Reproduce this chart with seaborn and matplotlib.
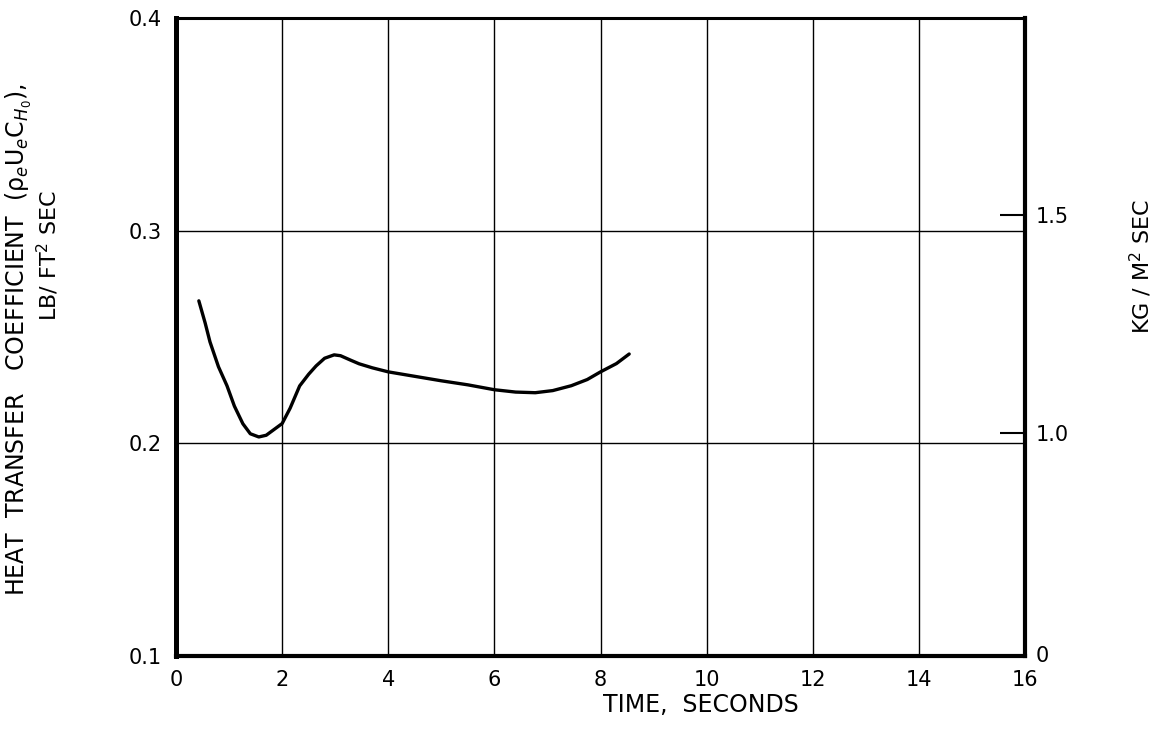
import matplotlib
matplotlib.use("Agg")
import matplotlib.pyplot as plt
import seaborn as sns
import pandas as pd

# Heat transfer coefficient history (lb/ft^2 sec)
time_s = [0.43, 0.55, 0.64, 0.8, 0.96, 1.1, 1.26, 1.4, 1.56, 1.7, 1.82,
          2.0, 2.15, 2.33, 2.5, 2.64, 2.8, 2.98, 3.1, 3.3, 3.45, 3.7,
          4.0, 4.5, 5.0, 5.5, 6.0, 6.4, 6.77, 7.1, 7.45, 7.75, 8.0, 8.3, 8.54]
coeff = [0.267, 0.2565, 0.2477, 0.236, 0.2271, 0.2175, 0.2092, 0.2045,
         0.2030, 0.2038, 0.2060, 0.2093, 0.2165, 0.2270, 0.2325, 0.2364,
         0.2400, 0.2416, 0.2412, 0.2390, 0.2374, 0.2355, 0.2336, 0.2315,
         0.2294, 0.2275, 0.2252, 0.2241, 0.2238, 0.2248, 0.2271, 0.2300,
         0.2336, 0.2375, 0.2420]

x_ticks = [0, 2, 4, 6, 8, 10, 12, 14, 16]
y_ticks = [0.1, 0.2, 0.3, 0.4]
y_tick_labels = ["0.1", "0.2", "0.3", "0.4"]

# Secondary scale in kg/m^2 sec (positions in lb/ft^2 sec)
si_tick_pos = [0.2048, 0.3072]
si_tick_labels = ["1.0", "1.5"]

df = pd.DataFrame({"time": time_s, "coeff": coeff})

sns.set_style("white")
plt.rcParams["font.family"] = ["DejaVu Sans"]
plt.rcParams["text.color"] = "black"
plt.rcParams["xtick.color"] = "black"
plt.rcParams["ytick.color"] = "black"

fig = plt.figure(figsize=(11.68, 7.31), dpi=100)
ax = fig.add_axes([0.1507, 0.1026, 0.7269, 0.8728])

sns.lineplot(data=df, x="time", y="coeff", ax=ax, color="black",
             linewidth=2.4, sort=True, solid_joinstyle="round",
             solid_capstyle="round")

ax.set_xlim(0, 16)
ax.set_ylim(0.1, 0.4)
ax.set_xticks(x_ticks)
ax.set_xticklabels([str(v) for v in x_ticks], fontsize=15)
ax.set_yticks(y_ticks)
ax.set_yticklabels(y_tick_labels, fontsize=15)
ax.tick_params(axis="both", length=0, pad=10)
ax.grid(True, color="black", linewidth=1.0)
ax.set_xlabel("")
ax.set_ylabel("")

for side, lw in [("left", 3.6), ("bottom", 3.0), ("right", 3.0), ("top", 2.2)]:
    ax.spines[side].set_visible(True)
    ax.spines[side].set_color("black")
    ax.spines[side].set_linewidth(lw)

# Right-hand metric scale
ax2 = ax.twinx()
ax2.set_ylim(0.1, 0.4)
ax2.set_yticks(si_tick_pos)
ax2.set_yticklabels(si_tick_labels, fontsize=15)
ax2.tick_params(axis="y", direction="in", length=18, width=1.5, pad=8,
                colors="black")
for s in ax2.spines.values():
    s.set_visible(False)
ax2.text(1.012, 0.0, "0", transform=ax2.transAxes, fontsize=15,
         ha="left", va="center")

fig.text(0.6, 0.035, "TIME,  SECONDS", ha="center", va="center", fontsize=17)
fig.text(0.016, 0.535, "HEAT  TRANSFER   COEFFICIENT  (ρ$_e$U$_e$C$_{H_0}$),",
         rotation=90, ha="center", va="center", fontsize=17)
fig.text(0.041, 0.651, "LB/ FT$^2$ SEC", rotation=90, ha="center",
         va="center", fontsize=16)
fig.text(0.977, 0.635, "KG / M$^2$ SEC", rotation=90, ha="center",
         va="center", fontsize=16)

fig.savefig("out.png", dpi=100)
